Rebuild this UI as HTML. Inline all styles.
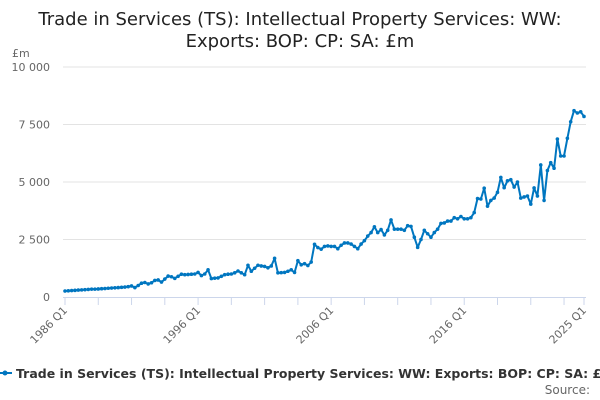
<!DOCTYPE html>
<html><head><meta charset="utf-8"><style>
body{margin:0;background:#fff;}
svg{display:block;font-family:"DejaVu Sans","Liberation Sans",sans-serif;}
</style></head><body>
<svg id="chart" width="600" height="400" viewBox="0 0 600 400">
<text x="300" y="25" text-anchor="middle" font-size="18" fill="#222">Trade in Services (TS): Intellectual Property Services: WW:</text>
<text x="300" y="47" text-anchor="middle" font-size="18" fill="#222">Exports: BOP: CP: SA: £m</text>
<text x="12" y="57" font-size="11" fill="#666">£m</text>
<g id="grid"></g>
<g id="xaxis"></g>
<g id="series"></g>
<g>
<line x1="-2" y1="373" x2="12" y2="373" stroke="#0076c0" stroke-width="2"/>
<circle cx="5" cy="373" r="2.5" fill="#0076c0"/>
<text x="16" y="378" font-size="12.5" font-weight="bold" fill="#333">Trade in Services (TS): Intellectual Property Services: WW: Exports: BOP: CP: SA: £m</text>
</g>
<text x="590" y="394" text-anchor="end" font-size="12" fill="#666">Source:</text>
</svg>
<script>
const yTicks=[0,2500,5000,7500,10000];
const yTickLabels=["0","2 500","5 000","7 500","10 000"];
const xLabels=["1986 Q1","1996 Q1","2006 Q1","2016 Q1","2025 Q1"];
const xLabelIdx=[0,40,80,120,156];
const values=[0.26,0.27,0.28,0.29,0.30,0.31,0.32,0.33,0.34,0.34,0.35,0.36,0.37,0.38,0.39,0.40,0.41,0.42,0.43,0.45,0.48,
0.41,0.50,0.60,0.63,0.57,0.62,0.72,0.74,0.65,0.78,0.91,0.88,0.81,0.90,0.99,0.97,0.98,0.99,1.0,
1.07,0.93,1.0,1.18,0.80,0.82,0.83,0.90,0.97,0.99,1.0,1.05,1.13,1.05,0.97,1.38,1.12,1.25,1.38,1.35,
1.33,1.27,1.35,1.68,1.05,1.06,1.07,1.12,1.18,1.07,1.58,1.40,1.45,1.37,1.52,2.29,2.15,2.08,2.2,2.22,
2.2,2.2,2.1,2.25,2.35,2.35,2.3,2.2,2.1,2.3,2.45,2.65,2.8,3.05,2.8,2.93,2.7,2.9,3.35,2.95,
2.95,2.95,2.9,3.1,3.07,2.6,2.16,2.5,2.9,2.75,2.6,2.8,2.95,3.2,3.22,3.3,3.3,3.45,3.4,3.5,
3.4,3.4,3.45,3.67,4.28,4.26,4.73,3.95,4.2,4.3,4.55,5.2,4.75,5.05,5.1,4.78,5.0,4.3,4.35,4.39,
4.04,4.74,4.39,5.74,4.2,5.5,5.84,5.6,6.87,6.13,6.13,6.9,7.62,8.1,8.0,8.05,7.85].map(v=>v*1000);
const NS="http://www.w3.org/2000/svg";
const x0=65,x1=584,yb=297,yt=67;
const xs=i=>x0+(x1-x0)*i/(values.length-1);
const ys=v=>yb-(yb-yt)*v/10000;
const grid=document.getElementById('grid'),xa=document.getElementById('xaxis'),ser=document.getElementById('series');
function mk(t,a,p){const e=document.createElementNS(NS,t);for(const k in a)e.setAttribute(k,a[k]);p.appendChild(e);return e;}
yTicks.forEach((t,i)=>{
 if(t>0){const l=mk('line',{x1:63,x2:586,y1:ys(t),y2:ys(t),stroke:'#e3e3e3'},grid);
 
 }
 const tx=mk('text',{x:50,y:ys(t)+4,'text-anchor':'end','font-size':11,fill:'#666'},grid);
 tx.textContent=yTickLabels[i];
 
 
});
const ax=mk('line',{x1:63,x2:586,y1:yb+0.5,y2:yb+0.5,stroke:'#ccd6eb'},xa);


for(let i=0;i<values.length;i+=10){
 const tk=mk('line',{x1:xs(i),x2:xs(i),y1:yb,y2:yb+8,stroke:'#ccd6eb'},xa);
 
 
}
const lt=mk('line',{x1:xs(156),x2:xs(156),y1:yb,y2:yb+8,stroke:'#ccd6eb'},xa);


xLabels.forEach((s,k)=>{
 const x=xs(xLabelIdx[k]);
 const t=mk('text',{x:x+3,y:yb+14,'text-anchor':'end','font-size':11,fill:'#666',transform:`rotate(-45 ${x+3} ${yb+14})`},xa);
 t.textContent=s;
 
 
});
const pts=values.map((v,i)=>xs(i).toFixed(1)+','+ys(v).toFixed(1)).join(' ');
const pl=mk('polyline',{points:pts,fill:'none',stroke:'#0076c0','stroke-width':2,'stroke-linejoin':'round'},ser);


values.forEach((v,i)=>{
 const c=mk('circle',{cx:xs(i),cy:ys(v),r:1.8,fill:'#0076c0'},ser);
 
 
});
</script>
</body></html>
